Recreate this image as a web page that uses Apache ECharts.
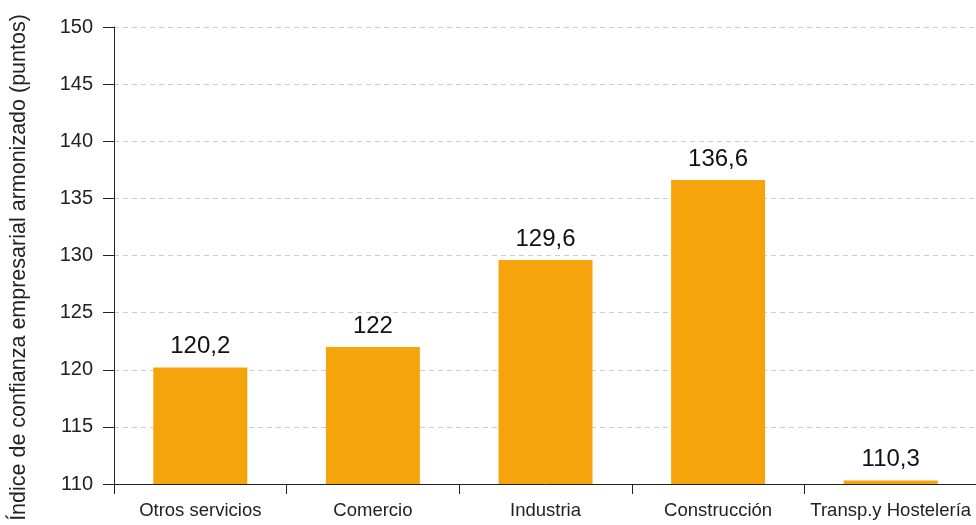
<!DOCTYPE html>
<html lang="es">
<head>
    <meta charset="UTF-8">
    <title>Índice de confianza empresarial armonizado</title>
    <script src="https://cdn.jsdelivr.net/npm/echarts@6/dist/echarts.min.js"></script>
    <style>
        html, body, #chart {
            width: 976px;
            height: 525px;
            padding: 0;
            margin: 0;
            background: #fff;
        }
    </style>
</head>
<body>
<div id="chart"></div>
<script>
    var sectores = ["Otros servicios", "Comercio", "Industria", "Construcción", "Transp.y Hostelería"];
    var indices = [120.2, 122, 129.6, 136.6, 110.3];

    var myChart = echarts.init(document.getElementById("chart"));

    myChart.setOption({
        animation: false,
        textStyle: {fontFamily: "Liberation Sans, Arial, sans-serif"},
        grid: {left: 114, top: 27, width: 863, bottom: 41, containLabel: false, outerBoundsMode: "none"},
        xAxis: {
            type: "category",
            data: sectores,
            axisLine: {lineStyle: {color: "#222", width: 1}},
            axisTick: {show: true, alignWithLabel: false, length: 10, lineStyle: {color: "#222"}},
            axisLabel: {color: "#222", fontSize: 18.5, margin: 17, interval: 0}
        },
        yAxis: {
            type: "value",
            min: 110,
            max: 150,
            interval: 5,
            name: "Índice de confianza empresarial armonizado (puntos)",
            nameLocation: "middle",
            nameGap: 84,
            nameTextStyle: {color: "#222", fontSize: 21.5, padding: [0, 24, 0, 0]},
            axisLine: {show: true, lineStyle: {color: "#222", width: 1}},
            axisTick: {show: true, length: 11, lineStyle: {color: "#222"}},
            axisLabel: {color: "#222", fontSize: 20, margin: 21},
            splitLine: {lineStyle: {color: "#cccccc", type: [5, 4]}}
        },
        series: [{
            type: "bar",
            data: indices,
            barWidth: 94,
            itemStyle: {color: "#F5A40C"},
            label: {
                show: true,
                position: "top",
                distance: 9,
                color: "#111",
                fontSize: 24,
                formatter: function (p) {
                    return String(p.value).replace(".", ",");
                }
            }
        }]
    });
</script>
</body>
</html>
